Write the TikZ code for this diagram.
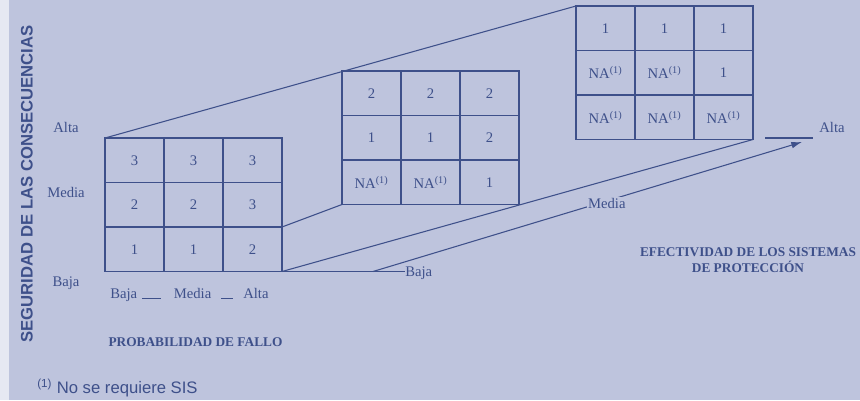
\documentclass[tikz,border=0pt]{standalone}
\usepackage{fontspec}
\setmainfont{Liberation Serif}
\setsansfont{Liberation Sans}
\usepackage{tikz}
\usetikzlibrary{arrows.meta}
\usepackage{xcolor}
\definecolor{bgcol}{RGB}{190,196,221}
\definecolor{stripcol}{RGB}{230,232,242}
\definecolor{inkcol}{RGB}{62,80,138}
\newcommand{\naref}{NA\textsuperscript{(1)}}

\begin{document}
\begin{tikzpicture}[x=0.75pt,y=-0.75pt,
    ink/.style={draw=inkcol, line width=1.2pt},
    link/.style={draw=inkcol, line width=0.8pt},
    cell/.style={text=inkcol, font=\fontsize{11}{12}\selectfont, inner sep=0pt},
    lbl/.style={text=inkcol, font=\fontsize{11}{12}\selectfont, inner sep=0pt},
    hdr/.style={text=inkcol, font=\fontsize{10}{12}\selectfont\bfseries, inner sep=0pt}]
  \fill[bgcol] (0,0) rectangle (860,400);
  \useasboundingbox (0,0) rectangle (860,400);
  \fill[stripcol] (0,0) rectangle (9,400);

  % the three matrices
  \foreach \g/\x/\y in {1/105/138, 2/342/71, 3/576/6}{
    \draw[ink] (\x,\y) rectangle +(177,133.5);
    \foreach \i in {1,2}{
      \draw[ink] (\x+59*\i,\y) -- +(0,133.5);
      \draw[ink] (\x,\y+44.5*\i) -- +(177,0);
    }
    \coordinate (g\g-tl) at (\x,\y);
    \coordinate (g\g-bl) at (\x,\y+133.5);
    \coordinate (g\g-br) at (\x+177,\y+133.5);
  }
  \coordinate (g1-mr) at (282,227);

  \foreach \r/\a/\b/\c in {0/3/3/3, 1/2/2/3, 2/1/1/2}{
    \node[cell] (a\r0) at (134.5, 160.25+44.5*\r) {\a};
    \node[cell] (a\r1) at (193.5, 160.25+44.5*\r) {\b};
    \node[cell] (a\r2) at (252.5, 160.25+44.5*\r) {\c};
  }
  \foreach \r/\a/\b/\c in {0/2/2/2, 1/1/1/2, 2/\naref/\naref/1}{
    \node[cell] (b\r0) at (371.5, 93.25+44.5*\r) {\a};
    \node[cell] (b\r1) at (430.5, 93.25+44.5*\r) {\b};
    \node[cell] (b\r2) at (489.5, 93.25+44.5*\r) {\c};
  }
  \foreach \r/\a/\b/\c in {0/1/1/1, 1/\naref/\naref/1, 2/\naref/\naref/\naref}{
    \node[cell] (c\r0) at (605.5, 28.25+44.5*\r) {\a};
    \node[cell] (c\r1) at (664.5, 28.25+44.5*\r) {\b};
    \node[cell] (c\r2) at (723.5, 28.25+44.5*\r) {\c};
  }

  % perspective lines
  \draw[link] (g1-tl) -- (g3-tl);
  \draw[link] (g1-br) -- (g3-br);
  \draw[link] (g1-mr) -- (g2-bl);

  % axis of protection
  \node[lbl, anchor=west] (ejeBaja) at (405,273) {Baja};
  \draw[link] (g1-bl) -- (g1-bl -| ejeBaja.west);
  \coordinate (medS) at (373,271.5);
  \coordinate (arrE) at (802,142);
  \draw[link, -{Latex[length=8pt,width=5pt]}] (medS) -- node[lbl, fill=bgcol, inner sep=1pt, pos=0.545, yshift=-2pt] (ejeMedia) {Media} (arrE);
  \coordinate (altaS) at (765,138);
  \coordinate (altaE) at (813,138);
  \draw[link] (altaS) -- (altaE);
  \node[lbl] (ejeAlta) at (832,127) {Alta};

  % left axis
  \node[lbl] (segAlta) at (66,127) {Alta};
  \node[lbl] (segMedia) at (66,192) {Media};
  \node[lbl] (segBaja) at (66,283) {Baja};
  \node[text=inkcol, font=\sffamily\bfseries\fontsize{12.5}{14}\selectfont, rotate=90, inner sep=0pt] (seguridad) at (27,184) {SEGURIDAD DE LAS CONSECUENCIAS};

  % bottom axis
  \node[lbl, anchor=west] (probEje) at (110,295) {Baja\hspace{3.75pt}\rule{14pt}{0.6pt}\hspace{9.75pt}Media\hspace{7.5pt}\rule{9pt}{0.6pt}\hspace{7.5pt}Alta};
  \node[hdr] (probabilidad) at (195.5,342) {PROBABILIDAD DE FALLO};
  \node[hdr, align=center] (efectividad) at (748,260) {EFECTIVIDAD DE LOS SISTEMAS\\DE PROTECCIÓN};

  % footnote
  \node[text=inkcol, font=\sffamily\fontsize{12.5}{14}\selectfont, anchor=west, inner sep=0pt] (nota) at (37,388) {\textsuperscript{(1)} No se requiere SIS};
\end{tikzpicture}
\end{document}
